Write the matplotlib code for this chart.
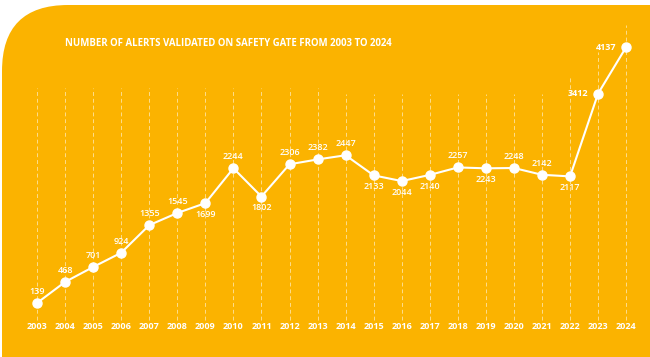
import matplotlib.pyplot as plt
from matplotlib.patches import FancyBboxPatch

# --- data ---
years = list(range(2003, 2025))
alerts = [139, 468, 701, 924, 1355, 1545, 1699, 2244, 1802, 2306, 2382,
          2447, 2133, 2044, 2140, 2257, 2243, 2248, 2142, 2117, 3412, 4137]
# where each value label sits relative to its point
label_side = ["a", "a", "a", "a", "a", "a", "b", "a", "b", "a", "a",
              "a", "b", "b", "b", "a", "b", "a", "a", "b", "l", "l"]
# how high each dashed guide reaches (in alert units)
guide_top = [3500] * 11 + [3400] * 8 + [3700, 4060, 4480]

title = "NUMBER OF ALERTS VALIDATED ON SAFETY GATE FROM 2003 TO 2024"

YELLOW = "#FBB300"
W, H = 650, 357

plt.rcParams["font.family"] = ["Open Sans", "DejaVu Sans"]

fig = plt.figure(figsize=(W / 100, H / 100), dpi=100, facecolor="white")

# background layer in pixel units: yellow card, rounded top-left corner
bg = fig.add_axes([0, 0, 1, 1])
bg.set_xlim(0, W)
bg.set_ylim(H, 0)
bg.axis("off")
bg.add_patch(FancyBboxPatch((2, 5), 2000, 2000,
                            boxstyle="round,pad=0,rounding_size=66",
                            facecolor=YELLOW, edgecolor="none"))

ax = fig.add_axes([0, 0, 1, 1])
ax.set_facecolor("none")
ax.set_xlim(2001.68, 2024.85)
ax.set_ylim(-705, 4873)
ax.axis("off")

# dashed guides
for yr, top in zip(years, guide_top):
    ax.plot([yr, yr], [-130, top], color="white", alpha=0.55, lw=0.7,
            ls=(0, (4, 3)), zorder=1)

ax.plot(years, alerts, color="white", lw=1.5, marker="o", ms=6.5,
        mfc="white", mec="white", zorder=3)

for yr, v, side in zip(years, alerts, label_side):
    if side == "a":
        ax.annotate(str(v), (yr, v), xytext=(0, 5), textcoords="offset points",
                    ha="center", va="bottom", color="white", fontsize=6.5,
                    fontweight="semibold")
    elif side == "b":
        ax.annotate(str(v), (yr, v), xytext=(0, -5), textcoords="offset points",
                    ha="center", va="top", color="white", fontsize=6.5,
                    fontweight="semibold")
    else:
        ax.annotate(str(v), (yr, v), xytext=(-7, 0), textcoords="offset points",
                    ha="right", va="center", color="white", fontsize=6.5,
                    fontweight="bold")

for yr in years:
    ax.text(yr, -235, str(yr), ha="center", va="center", color="white",
            fontsize=6.5, fontweight="bold")

fig.text(65 / W, 1 - 44 / H, title, ha="left", va="center", color="white",
         fontsize=6.9, fontweight="bold")

fig.savefig("out.png", dpi=100, facecolor="white")
